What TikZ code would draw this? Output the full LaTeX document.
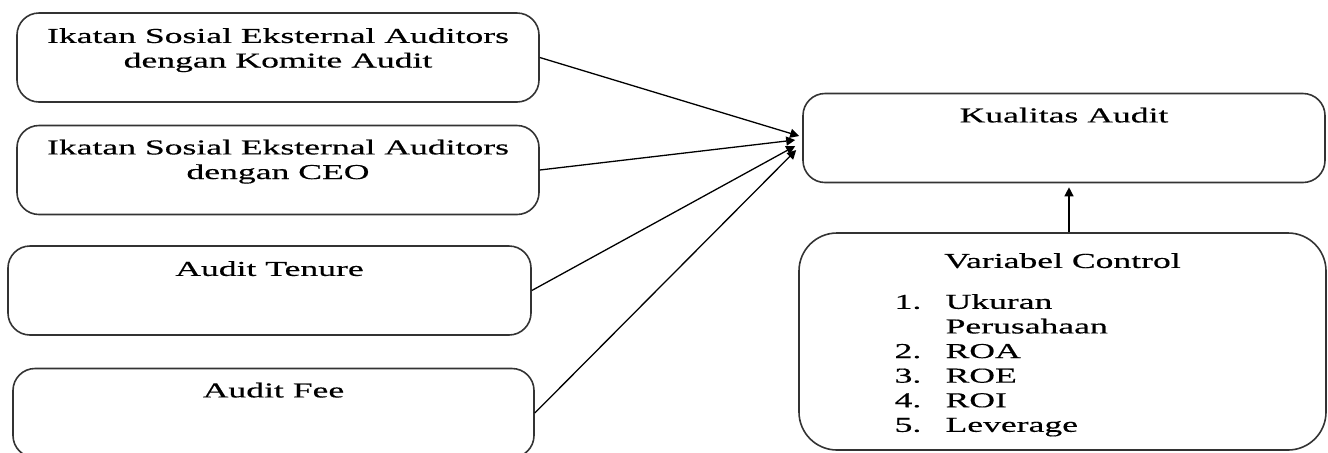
\documentclass[tikz,border=0pt]{standalone}
\usepackage{fontspec}
\setmainfont{Liberation Serif}[FakeStretch=1.68, FakeBold=0.5]
\usetikzlibrary{arrows.meta,positioning}
\newcommand{\lstnum}[1]{\makebox[25.5pt][l]{#1}}

\begin{document}
\begin{tikzpicture}[
    x=0.5pt, y=-0.5pt,
    box/.style={draw=black!80, line width=0.8pt, rounded corners=11pt, minimum height=44.5pt},
    lbl/.style={font=\fontsize{10.6}{12.3}\selectfont, align=center, inner sep=0pt},
    arr/.style={draw=black, line width=0.65pt, -{Triangle[length=4.5pt,width=4.5pt]}},
  ]
  \useasboundingbox (0,0) rectangle (1328,452);

  %% ================= left column: the four variables =================
  \node[box, minimum width=261pt]   (sk) at (278,57.5)  {};
  \node[box, minimum width=261pt]   (sc) at (278,170)   {};
  \node[box, minimum width=261.5pt] (tn) at (269.5,290.5) {};
  \node[box, minimum width=260.5pt] (fe) at (273.5,413) {};

  \node[lbl, below=7.8pt of sk.north] (sk-t) {Ikatan Sosial Eksternal Auditors\\dengan Komite Audit};
  \node[lbl, below=7.3pt of sc.north] (sc-t) {Ikatan Sosial Eksternal Auditors\\dengan CEO};
  \node[lbl, below=7.8pt of tn.north] (tn-t) {Audit Tenure};
  \node[lbl, below=7.3pt of fe.north] (fe-t) {Audit Fee};

  %% ================= right column: outcome and controls =================
  \node[box, minimum width=261pt] (kq) at (1064,138) {};
  \node[box, rounded corners=19pt, minimum width=263.5pt, minimum height=108.5pt] (vc) at (1062.5,341.5) {};

  \node[lbl, below=7.3pt of kq.north]  (kq-t) {Kualitas Audit};
  \node[lbl, below=10.3pt of vc.north] (vc-t) {Variabel Control};
  \node[lbl, align=left, anchor=north west] (vc-l) at ([xshift=48pt, yshift=-30.75pt]vc.north west)
    {\lstnum{1.}Ukuran\\
     \lstnum{}Perusahaan\\
     \lstnum{2.}ROA\\
     \lstnum{3.}ROE\\
     \lstnum{4.}ROI\\
     \lstnum{5.}Leverage};

  %% arrows into Kualitas Audit
  \draw[arr] (sk.east) -- ([xshift=-1.5pt, yshift=1pt]kq.west);
  \draw[arr] (sc.east) -- ([xshift=-3.5pt, yshift=-1pt]kq.west);
  \draw[arr] (tn.east) -- ([xshift=-3.5pt, yshift=-4pt]kq.west);
  \draw[arr] (fe.east) -- ([xshift=-3pt, yshift=-6pt]kq.west);
  \draw[arr, shorten >=2pt] ([xshift=3.25pt]vc.north) -- ([xshift=2.5pt]kq.south);

\end{tikzpicture}
\end{document}
